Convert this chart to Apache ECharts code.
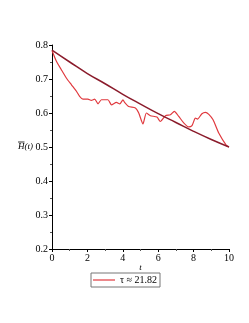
<!DOCTYPE html>
<html><head><meta charset="utf-8">
<script src="https://cdn.jsdelivr.net/npm/echarts@6/dist/echarts.min.js"></script>
<style>html,body{margin:0;padding:0;background:#fff}#c{width:249px;height:323px}</style>
</head><body><div id="c"></div>
<script>
const redT = [0,0.25,0.53,0.81,1.1,1.38,1.56,1.75,2.03,2.22,2.41,2.6,2.79,3.16,3.36,3.64,3.83,4.01,4.1,4.33,4.71,4.9,5.14,5.33,5.56,5.93,6.12,6.41,6.69,6.91,7.16,7.44,7.72,7.91,8.1,8.22,8.47,8.67,8.86,9.1,9.42,9.85,10];
const redV = [0.784,0.752,0.727,0.703,0.683,0.664,0.649,0.641,0.641,0.637,0.641,0.627,0.639,0.639,0.624,0.631,0.627,0.639,0.631,0.619,0.615,0.600,0.568,0.600,0.592,0.588,0.575,0.592,0.595,0.605,0.590,0.571,0.559,0.563,0.585,0.582,0.598,0.602,0.596,0.580,0.541,0.505,0.500];
const darkT = [0,1,2,3,4,5,6,7,8,9,10];
const darkV = [0.785,0.750,0.716,0.686,0.655,0.626,0.598,0.572,0.546,0.522,0.500];
const xTicks = [0,2,4,6,8,10];
const yTicks = [0.2,0.3,0.4,0.5,0.6,0.7,0.8];
const legendLabel = 'τ ≈ 21.82';

const RED = '#e0393e', DARK = '#8b1c2c';
const serif = '"Liberation Serif","DejaVu Serif",serif';
const chart = echarts.init(document.getElementById('c'));
chart.setOption({
  animation:false,
  color:[RED,DARK],
  grid:{left:52,right:20,top:45,bottom:74},
  legend:{
    data:[{name:legendLabel,itemStyle:{color:RED},lineStyle:{color:RED}}], left:91, top:273, orient:'horizontal',
    borderColor:'#777', borderWidth:1, padding:[2,3,2,2],
    itemWidth:22, itemHeight:10, itemGap:4,
    textStyle:{fontFamily:serif,fontSize:10,color:'#000'},
    icon:'path://M0,5L22,5L22,6.2L0,6.2Z'
  },
  xAxis:{
    type:'value', min:xTicks[0], max:xTicks[xTicks.length-1], interval:2,
    name:'t', nameLocation:'middle', nameGap:14, nameMoveOverlap:false,
    nameTextStyle:{fontFamily:serif,fontStyle:'italic',fontSize:9,color:'#000'},
    axisLine:{onZero:false,lineStyle:{color:'#000',width:1}},
    axisTick:{length:3,lineStyle:{color:'#000'}},
    minorTick:{show:true,splitNumber:2,length:2,lineStyle:{color:'#555'}},
    splitLine:{show:false},
    axisLabel:{fontFamily:serif,fontSize:10,color:'#000',margin:4}
  },
  yAxis:{
    type:'value', min:yTicks[0], max:yTicks[yTicks.length-1], interval:0.1,
    name:'H(t)', nameLocation:'middle', nameGap:19, nameRotate:0, nameMoveOverlap:false,
    nameTextStyle:{fontFamily:serif,fontStyle:'italic',fontSize:9,color:'#000'},
    axisLine:{show:true,onZero:false,lineStyle:{color:'#000',width:1}},
    axisTick:{show:true,length:3,lineStyle:{color:'#000'}},
    minorTick:{show:true,splitNumber:2,length:2,lineStyle:{color:'#555'}},
    splitLine:{show:false},
    axisLabel:{fontFamily:serif,fontSize:10,color:'#000',margin:4,formatter:v=>v.toFixed(1)}
  },
  graphic:[{type:'line',shape:{x1:18,y1:142,x2:24.5,y2:142},style:{stroke:'#000',lineWidth:0.8}}],
  series:[
    {name:legendLabel,type:'line',data:redT.map((t,i)=>[t,redV[i]]),showSymbol:false,smooth:0.2,
     lineStyle:{color:RED,width:1.2},itemStyle:{color:RED}},
    {name:'exp',type:'line',data:darkT.map((t,i)=>[t,darkV[i]]),showSymbol:false,smooth:true,
     lineStyle:{color:DARK,width:1.5},itemStyle:{color:DARK}}
  ]
});
</script></body></html>
